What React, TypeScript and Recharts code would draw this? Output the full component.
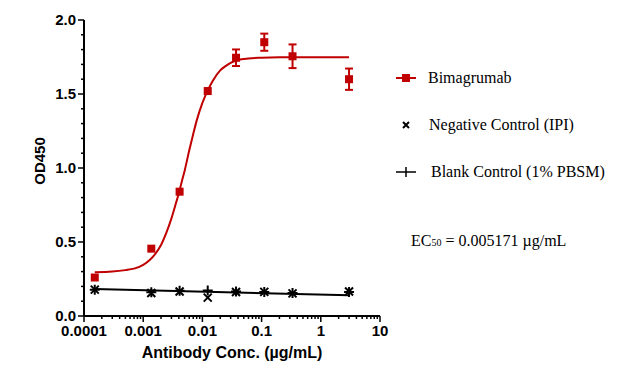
import { ComposedChart, ErrorBar, Legend, Line, Scatter, XAxis, YAxis } from "recharts";

const concentrations = [0.000152, 0.00137, 0.00412, 0.0123, 0.037, 0.111, 0.333, 3];
const bimagrumabOD = [0.26, 0.455, 0.84, 1.52, 1.745, 1.85, 1.755, 1.6];
const bimagrumabSD = [null, null, null, null, 0.056, 0.058, 0.08, 0.072];
const negativeOD = [0.178, 0.155, 0.166, 0.124, 0.162, 0.163, 0.153, 0.165];
const blankOD = [0.178, 0.16, 0.17, 0.172, 0.165, 0.162, 0.155, 0.162];

// fitted curves
const fitConc = [
  0.000152, 0.0003, 0.0005, 0.0007, 0.001, 0.0013, 0.0016, 0.002, 0.0025, 0.003, 0.0035, 0.004, 0.0045,
  0.005, 0.006, 0.007, 0.008, 0.01, 0.0125, 0.015, 0.02, 0.025, 0.03, 0.04, 0.06, 0.1, 0.2, 0.5, 1, 3,
];
const fitOD = [
  0.295, 0.3, 0.31, 0.32, 0.345, 0.38, 0.42, 0.48, 0.57, 0.66, 0.75, 0.83, 0.91, 0.98, 1.12, 1.23, 1.32,
  1.44, 1.53, 1.59, 1.66, 1.69, 1.71, 1.73, 1.74, 1.745, 1.748, 1.748, 1.748, 1.748,
];
const blankFitConc = [0.000152, 3];
const blankFitOD = [0.182, 0.14];

const xMajorTicks = [0.0001, 0.001, 0.01, 0.1, 1, 10];
const xTickLabels = ["0.0001", "0.001", "0.01", "0.1", "1", "10"];
const yTicks = [0, 0.1, 0.2, 0.3, 0.4, 0.5, 0.6, 0.7, 0.8, 0.9, 1, 1.1, 1.2, 1.3, 1.4, 1.5, 1.6, 1.7, 1.8, 1.9, 2];
const yMajorTicks = [0, 0.5, 1, 1.5, 2];

const legendLabels = ["Bimagrumab", "Negative Control (IPI)", "Blank Control (1% PBSM)"];
const ec50Value = "0.005171";

const RED = "#C00000";
const SANS = "'Liberation Sans', Arial, sans-serif";
const SERIF = "'Liberation Serif', 'Times New Roman', serif";

const xAllTicks = [
  ...xMajorTicks,
  ...xMajorTicks.slice(0, -1).flatMap((d) => [2, 3, 4, 5, 6, 7, 8, 9].map((m) => d * m)),
];

const bimaData = concentrations.map((x, i) => ({ x, y: bimagrumabOD[i], err: bimagrumabSD[i] ?? undefined }));
const negData = concentrations.map((x, i) => ({ x, y: negativeOD[i] }));
const blankData = concentrations.map((x, i) => ({ x, y: blankOD[i] }));
const fitData = fitConc.map((x, i) => ({ x, y: fitOD[i] }));
const blankFitData = blankFitConc.map((x, i) => ({ x, y: blankFitOD[i] }));

function XTick(props: any) {
  const { x, y, payload } = props;
  const idx = xMajorTicks.indexOf(payload.value);
  const major = idx >= 0;
  return (
    <g>
      <line x1={x} x2={x} y1={y} y2={y + (major ? 6 : 3)} stroke="#000" strokeWidth={1.5} />
      {major && (
        <text x={x} y={y + 20} textAnchor="middle" fontFamily={SANS} fontWeight="bold" fontSize={15} fill="#000">
          {xTickLabels[idx]}
        </text>
      )}
    </g>
  );
}

function YTick(props: any) {
  const { x, y, payload } = props;
  const major = yMajorTicks.includes(payload.value);
  return (
    <g>
      <line x1={x} x2={x - (major ? 6 : 3)} y1={y} y2={y} stroke="#000" strokeWidth={1.5} />
      {major && (
        <text x={x - 8} y={y + 5} textAnchor="end" fontFamily={SANS} fontWeight="bold" fontSize={15} fill="#000">
          {payload.value.toFixed(1)}
        </text>
      )}
    </g>
  );
}

const square = (p: any) => <rect x={p.cx - 4} y={p.cy - 4} width={8} height={8} fill={RED} />;
const cross = (p: any) => (
  <path
    d={`M${p.cx - 4},${p.cy - 4}L${p.cx + 4},${p.cy + 4}M${p.cx - 4},${p.cy + 4}L${p.cx + 4},${p.cy - 4}`}
    stroke="#000"
    strokeWidth={2}
  />
);
const plus = (p: any) => (
  <path d={`M${p.cx - 5},${p.cy}L${p.cx + 5},${p.cy}M${p.cx},${p.cy - 5}L${p.cx},${p.cy + 5}`} stroke="#000" strokeWidth={2} />
);

function LegendMarker({ index }: { index: number }) {
  return (
    <svg width={26} height={16} style={{ flex: "none" }}>
      {index === 0 && (
        <>
          <line x1={4} x2={24} y1={8} y2={8} stroke={RED} strokeWidth={2} />
          <rect x={10} y={4} width={8} height={8} fill={RED} />
        </>
      )}
      {index === 1 && <path d="M11,5L17,11M11,11L17,5" stroke="#000" strokeWidth={2} />}
      {index === 2 && <path d="M4,8L24,8M14,3L14,13" stroke="#000" strokeWidth={1.5} />}
    </svg>
  );
}

function renderLegend() {
  return (
    <div style={{ fontFamily: SERIF, fontSize: 16, color: "#000" }}>
      {legendLabels.map((label, i) => (
        <div key={label} style={{ display: "flex", alignItems: "center", height: 47 }}>
          <LegendMarker index={i} />
          <span style={{ marginLeft: 10 + (i === 2 ? 3 : i) }}>{label}</span>
        </div>
      ))}
      <div style={{ marginTop: 37, paddingLeft: 19, whiteSpace: "nowrap" }}>
        EC<span style={{ fontSize: 10 }}>50</span> = {ec50Value} µg/mL
      </div>
    </div>
  );
}

export default function App() {
  return (
    <div style={{ position: "absolute", left: 0, top: 0, width: 619, height: 369, background: "#fff" }}>
      <ComposedChart width={619} height={369} margin={{ top: 20, right: 239, bottom: 0, left: 0 }}>
        <XAxis
          dataKey="x"
          type="number"
          scale="log"
          domain={[0.0001, 10]}
          allowDataOverflow
          ticks={xAllTicks}
          interval={0}
          tick={<XTick />}
          tickLine={false}
          tickSize={0}
          tickMargin={0}
          height={53}
          axisLine={{ stroke: "#000", strokeWidth: 2 }}
          label={{
            value: "Antibody Conc. (µg/mL)",
            position: "insideBottom",
            offset: 11,
            fontFamily: SANS,
            fontWeight: "bold",
            fontSize: 16,
            fill: "#000",
          }}
        />
        <YAxis
          dataKey="y"
          type="number"
          domain={[0, 2]}
          ticks={yTicks}
          interval={0}
          tick={<YTick />}
          tickLine={false}
          tickSize={0}
          tickMargin={0}
          width={84}
          axisLine={{ stroke: "#000", strokeWidth: 2 }}
          label={{
            value: "OD450",
            angle: -90,
            position: "center",
            dx: -2,
            dy: -7,
            fontFamily: SANS,
            fontWeight: "bold",
            fontSize: 15,
            fill: "#000",
          }}
        />
        <Line data={fitData} dataKey="y" type="monotone" stroke={RED} strokeWidth={2} dot={false} isAnimationActive={false} />
        <Line data={blankFitData} dataKey="y" type="linear" stroke="#000" strokeWidth={2} dot={false} isAnimationActive={false} />
        <Scatter data={negData} dataKey="y" shape={cross} isAnimationActive={false} />
        <Scatter data={blankData} dataKey="y" shape={plus} isAnimationActive={false} />
        <Scatter data={bimaData} dataKey="y" shape={square} isAnimationActive={false}>
          <ErrorBar dataKey="err" direction="y" width={4} stroke={RED} strokeWidth={2} />
        </Scatter>
        <Legend
          layout="horizontal"
          verticalAlign="middle"
          align="center"
          content={renderLegend}
          wrapperStyle={{ left: 392, top: 54, width: 227 }}
        />
      </ComposedChart>
    </div>
  );
}
